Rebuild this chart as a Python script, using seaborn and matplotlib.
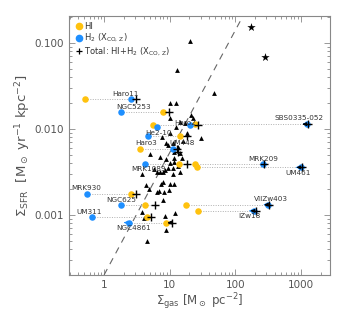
import numpy as np
import pandas as pd
import matplotlib
matplotlib.use("Agg")
import matplotlib.pyplot as plt
import seaborn as sns
from matplotlib.lines import Line2D
from matplotlib.ticker import FixedLocator, FixedFormatter, LogLocator, NullFormatter

nan = np.nan

# galaxies with HI, H2 and total gas surface densities
names = ["Haro11", "NGC5253", "Haro2", "", "SBS0335-052", "He2-10", "Haro3",
         "UM448", "MRK1089", "MRK209", "UM461", "MRK930", "NGC625",
         "VIIZw403", "IZw18", "UM311", "NGC4861"]
sfr = [0.0220, 0.0155, 0.0110, 0.0106, 0.0113, 0.0082, 0.0058,
       0.0054, 0.00384, 0.00384, 0.00355, 0.00175, 0.00129,
       0.00131, 0.00111, 0.00093, 0.00081]
sigma_hi = [0.52, 7.95, 5.6, nan, 24.2, 14.5, 3.5,
            nan, 14.0, 24.2, 25.7, 2.55, 4.28,
            17.7, 26.6, 4.59, 8.74]
sigma_h2 = [2.55, 1.82, 20.3, 6.5, 1260., 4.6, 11.3,
            nan, 4.28, 261., 1000., 0.55, 1.82,
            319., 193., 0.65, 2.38]
sigma_tot = [3.04, 9.8, 27.5, nan, 1270., 18.6, 12.8,
             13.6, 18.1, 274., 1030., 3.04, 6.08,
             330., 205., 5.28, 11.0]
upper_limit = ["SBS0335-052", "UM461", "VIIZw403", "IZw18", "NGC4861"]

# comparison sample (triangles) and starbursts (stars)
tri_gas = [20.3, 13.0, 46.7, 10.3, 12.7, 10.1, 22.8, 14.3, 17.0, 12.7, 30.6,
           18.7, 10.1, 7.68, 8.95, 9.48, 11.3, 14.3, 5.1, 7.08, 8.95, 11.7,
           15.3, 10.3, 11.7, 13.2, 9.48, 11.3, 14.3, 5.8, 8.64, 7.96, 6.3,
           7.08, 3.76, 11.3, 7.96, 7.33, 10.1, 11.7, 4.43, 4.81, 6.3, 6.76,
           8.24, 9.83, 7.86, 3.8, 12.0, 4.08, 8.44, 8.95, 4.53, 16.1, 13.5,
           11.7, 21.5]
tri_sfr = [0.105, 0.048, 0.0258, 0.0198, 0.0198, 0.0132, 0.0132, 0.0121,
           0.0118, 0.0106, 0.00783, 0.00902, 0.00887, 0.00811, 0.00679,
           0.00638, 0.00679, 0.0052, 0.0051, 0.00475, 0.00443, 0.00455,
           0.00451, 0.00398, 0.00405, 0.0037, 0.00348, 0.00348, 0.00318,
           0.00339, 0.00327, 0.0031, 0.00315, 0.00315, 0.00294, 0.00299,
           0.00237, 0.00229, 0.00229, 0.00229, 0.00223, 0.00199, 0.00182,
           0.00187, 0.00182, 0.00195, 0.00149, 0.00109, 0.00106, 0.000914,
           0.000957, 0.00067, 0.00049, 0.0071, 0.0062, 0.00543, 0.0145]
star_gas = [177., 284.]
star_sfr = [0.151, 0.0676]

KS_NORM, KS_SLOPE = 2.0e-4, 1.42

# label anchor points (layout only)
label_pos = {
    "Haro11": (2.14, 0.0256), "NGC5253": (2.77, 0.0181),
    "Haro2": (17.0, 0.0118), "SBS0335-052": (938., 0.0132),
    "He2-10": (6.67, 0.0090), "Haro3": (4.43, 0.0069),
    "UM448": (15.2, 0.0068), "MRK1089": (4.7, 0.00339),
    "MRK209": (267., 0.00447), "UM461": (915., 0.00305),
    "MRK930": (0.525, 0.00204), "NGC625": (1.84, 0.00149),
    "VIIZw403": (346., 0.00152), "IZw18": (167., 0.000957),
    "UM311": (0.60, 0.00108), "NGC4861": (2.77, 0.000693),
}

C_HI = "#FFC20E"
C_H2 = "#1E8FFF"
GREY = "#555555"

sns.set_theme(style="ticks")
plt.rcParams["font.family"] = ["DejaVu Sans"]

df = pd.DataFrame({"name": names, "sfr": sfr, "hi": sigma_hi,
                   "h2": sigma_h2, "tot": sigma_tot})
tri = pd.DataFrame({"gas": tri_gas, "sfr": tri_sfr})
stars = pd.DataFrame({"gas": star_gas, "sfr": star_sfr})

fig = plt.figure(figsize=(3.46, 3.2), dpi=100)
ax = fig.add_axes([0.199, 0.141, 0.755, 0.809])
ax.set_xscale("log")
ax.set_yscale("log")

# KS relation
xk = np.array([1.0, 125.0])
ax.plot(xk, KS_NORM * xk ** KS_SLOPE, ls=(0, (6, 5)), color="#666666", lw=0.8, zorder=1)

# dotted connectors
for _, r in df.iterrows():
    vals = [v for v in (r.hi, r.h2, r.tot) if not np.isnan(v)]
    if len(vals) > 1:
        ax.plot([min(vals), max(vals)], [r.sfr, r.sfr], ls=(0, (1, 1.5)),
                color="#b0b0b0", lw=0.7, zorder=1)

sns.scatterplot(data=tri, x="gas", y="sfr", marker="^", color="black",
                s=12, linewidth=0, ax=ax, zorder=2)
sns.scatterplot(data=stars, x="gas", y="sfr", marker="*", color="black",
                s=40, linewidth=0, ax=ax, zorder=2)
sns.scatterplot(data=df, x="hi", y="sfr", marker="o", color=C_HI,
                s=22, linewidth=0, ax=ax, zorder=3)
sns.scatterplot(data=df, x="h2", y="sfr", marker="o", color=C_H2,
                s=22, linewidth=0, ax=ax, zorder=3)

# upper limits: short left arrows
for _, r in df[df.name.isin(upper_limit)].iterrows():
    ax.annotate("", xy=(r.h2 * 0.84, r.sfr), xytext=(r.h2, r.sfr),
                arrowprops=dict(arrowstyle="-|>", color=C_H2, lw=0.8,
                                mutation_scale=5), zorder=3)
    ax.annotate("", xy=(r.tot * 0.84, r.sfr), xytext=(r.tot, r.sfr),
                arrowprops=dict(arrowstyle="-|>", color="black", lw=0.8,
                                mutation_scale=5), zorder=4)

sns.scatterplot(data=df, x="tot", y="sfr", marker="+", color="black",
                s=30, linewidth=1.0, ax=ax, zorder=4)

for name, (lx, ly) in label_pos.items():
    ax.text(lx, ly, name, fontsize=5.2, color="#333333", ha="center",
            va="center", zorder=5)

ax.set_xlim(0.29, 2800)
ax.set_ylim(0.0002, 0.204)

ax.xaxis.set_major_locator(FixedLocator([1, 10, 100, 1000]))
ax.xaxis.set_major_formatter(FixedFormatter(["1", "10", "100", "1000"]))
ax.yaxis.set_major_locator(FixedLocator([0.001, 0.01, 0.1]))
ax.yaxis.set_major_formatter(FixedFormatter(["0.001", "0.010", "0.100"]))
for a in (ax.xaxis, ax.yaxis):
    a.set_minor_locator(LogLocator(base=10, subs=np.arange(2, 10)))
    a.set_minor_formatter(NullFormatter())

ax.tick_params(which="both", direction="in", top=True, right=True,
               colors="#888888", labelcolor=GREY, labelsize=7.5, width=0.6)
ax.tick_params(which="major", length=4.5)
ax.tick_params(which="minor", length=2.5)
for s in ax.spines.values():
    s.set_color("#888888")
    s.set_linewidth(0.8)

ax.set_xlabel(r"$\Sigma_{\rm gas}$ [M$_\odot$ pc$^{-2}$]", fontsize=8.5,
              color=GREY, labelpad=1)
ax.set_ylabel(r"$\Sigma_{\rm SFR}$  [M$_\odot$ yr$^{-1}$ kpc$^{-2}$]",
              fontsize=9.5, color=GREY, labelpad=1)

handles = [
    Line2D([], [], marker="o", color=C_HI, ls="", markersize=4.5),
    Line2D([], [], marker="o", color=C_H2, ls="", markersize=4.5),
    Line2D([], [], marker="+", color="black", ls="", markersize=5, mew=0.9),
]
labels = ["HI", r"H$_2$ (X$_{\rm CO,\,Z}$)", r"Total: HI+H$_2$ (X$_{\rm CO,\,Z}$)"]
leg = ax.legend(handles, labels, loc="upper left", frameon=False, fontsize=6,
                handletextpad=0.1, handlelength=1.0, labelspacing=0.15,
                borderaxespad=0.4, borderpad=0.3)
for t in leg.get_texts():
    t.set_color("#333333")

fig.savefig("out.png", dpi=100)
